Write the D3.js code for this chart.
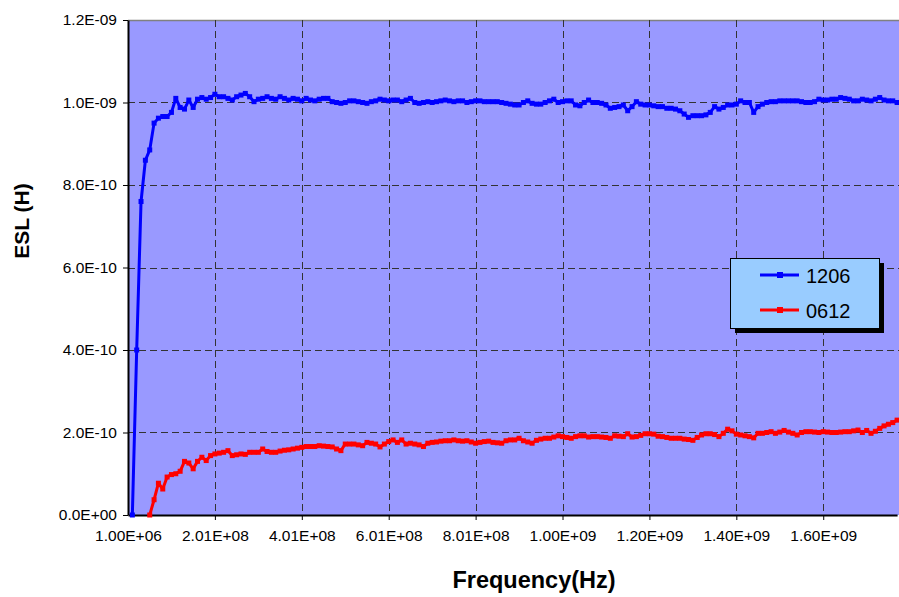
<!DOCTYPE html>
<html>
<head>
<meta charset="utf-8">
<script src="https://cdn.jsdelivr.net/npm/d3@7"></script>
<style>
  body { margin: 0; background: #fff; }
  svg { display: block; font-family: "Liberation Sans", Arial, sans-serif; }
</style>
</head>
<body>
<svg id="chart" width="899" height="597"></svg>
<script>
// sweep: first point 1.00E+06 Hz, one point every 1.0E+07 Hz
const freqStart = 1e6
const freqStep = 1e7

// ESL in units of 1e-10 H, one value per sweep point (null = no reading)
const esl1206 = [null, 0, 4.0, 7.6, 8.6, 8.85, 9.5, 9.62, 9.66, 9.66,
  9.76, 10.1, 9.88, 9.84, 10.06, 9.88, 10.08, 10.12, 10.08, 10.12,
  10.2, 10.14, 10.14, 10.1, 10.06, 10.14, 10.18, 10.22, 10.14, 10.02,
  10.08, 10.1, 10.14, 10.1, 10.08, 10.14, 10.1, 10.06, 10.1, 10.08,
  10.04, 10.1, 10.06, 10.04, 10.08, 10.1, 10.1, 10.02, 10.0, 9.98,
  10.0, 10.04, 10.04, 10.02, 10.0, 9.98, 10.02, 10.04, 10.08, 10.06,
  10.04, 10.06, 10.06, 10.02, 10.06, 10.1, 10.0, 9.98, 10.0, 10.02,
  10.0, 10.02, 10.04, 10.06, 10.04, 10.02, 10.04, 10.04, 10.0, 10.02,
  10.04, 10.04, 10.02, 10.02, 10.02, 10.02, 10.0, 9.98, 9.96, 9.94,
  9.94, 10.0, 10.04, 9.98, 9.96, 9.96, 10.0, 10.04, 10.08, 10.0,
  10.02, 10.04, 10.04, 9.94, 9.92, 10.0, 10.06, 10.0, 10.0, 9.98,
  9.94, 9.86, 9.88, 9.9, 9.94, 9.8, 9.9, 10.02, 9.96, 9.94,
  9.94, 9.92, 9.9, 9.9, 9.86, 9.86, 9.84, 9.8, 9.72, 9.64,
  9.68, 9.68, 9.68, 9.7, 9.76, 9.9, 9.84, 9.88, 9.94, 9.94,
  9.96, 10.04, 10.0, 10.0, 9.76, 9.9, 9.96, 10.0, 10.02, 10.02,
  10.04, 10.04, 10.04, 10.04, 10.04, 10.02, 10.0, 10.0, 10.02, 10.08,
  10.06, 10.06, 10.08, 10.08, 10.12, 10.1, 10.08, 10.04, 10.04, 10.08,
  10.06, 10.04, 10.08, 10.12, 10.06, 10.04, 10.04, 10.0]

const esl0612 = [null, null, null, null, null, 0, 0.37, 0.77, 0.63, 0.92,
  0.98, 1.0, 1.06, 1.3, 1.26, 1.12, 1.3, 1.4, 1.32, 1.44,
  1.48, 1.5, 1.52, 1.56, 1.44, 1.46, 1.48, 1.47, 1.52, 1.52,
  1.52, 1.6, 1.54, 1.52, 1.52, 1.55, 1.57, 1.58, 1.6, 1.62,
  1.64, 1.66, 1.66, 1.66, 1.68, 1.67, 1.66, 1.65, 1.6, 1.56,
  1.72, 1.72, 1.72, 1.7, 1.68, 1.76, 1.74, 1.72, 1.65, 1.72,
  1.78, 1.82, 1.76, 1.82, 1.72, 1.74, 1.72, 1.7, 1.66, 1.74,
  1.76, 1.77, 1.79, 1.8, 1.8, 1.82, 1.8, 1.79, 1.8, 1.77,
  1.74, 1.76, 1.78, 1.79, 1.76, 1.75, 1.74, 1.8, 1.82, 1.82,
  1.86, 1.8, 1.77, 1.74, 1.81, 1.84, 1.86, 1.86, 1.89, 1.92,
  1.9, 1.88, 1.86, 1.9, 1.92, 1.92, 1.89, 1.9, 1.9, 1.89,
  1.88, 1.86, 1.92, 1.91, 1.9, 1.97, 1.89, 1.9, 1.93, 1.97,
  1.97, 1.96, 1.91, 1.9, 1.88, 1.86, 1.86, 1.86, 1.84, 1.83,
  1.81, 1.88, 1.94, 1.97, 1.97, 1.95, 1.9, 1.98, 2.08, 2.04,
  1.96, 1.94, 1.92, 1.9, 1.87, 1.98, 1.98, 2.0, 2.02, 1.98,
  2.01, 2.05, 2.01, 1.98, 1.94, 2.0, 2.02, 2.02, 2.01, 2.0,
  2.02, 2.01, 2.0, 2.0, 2.01, 2.02, 2.02, 2.04, 2.06, 2.0,
  2.05, 1.98, 2.03, 2.1, 2.16, 2.2, 2.24, 2.3]

const seriesNames = ['1206', '0612']
const seriesColors = ['#0000FF', '#FF0000']
const yTicks = [0, 2e-10, 4e-10, 6e-10, 8e-10, 1e-9, 1.2e-9]
const xTicks = [1e6, 2.01e8, 4.01e8, 6.01e8, 8.01e8, 1.001e9, 1.201e9, 1.401e9, 1.601e9]

const svg = d3.select('#chart')
const plotL = 128, plotT = 20, plotR = 899, plotB = 515

let x = d3.scaleLinear().domain([freqStart, freqStart + 177 * freqStep]).range([plotL, 897.1])
let y = d3.scaleLinear().domain([0, 1.2e-9]).range([plotB, plotT])

let toSeries = vals => vals.map((v, i) => ({ f: freqStart + i * freqStep, v: v == null ? null : v * 1e-10 }))
let series = [esl1206, esl0612].map(toSeries)

// plot area
svg.append('rect')
  .attr('x', plotL).attr('y', plotT)
  .attr('width', plotR - plotL).attr('height', plotB - plotT)
  .attr('fill', '#9999FF')
svg.append('line')
  .attr('x1', plotL).attr('x2', plotR).attr('y1', plotT + 0.5).attr('y2', plotT + 0.5)
  .attr('stroke', '#808080').attr('stroke-width', 1.5)

// grid
let grid = svg.append('g').attr('stroke', '#333').attr('stroke-width', 1).attr('stroke-dasharray', '7,4')
grid.selectAll('.hg').data(yTicks.slice(1, -1)).enter().append('line')
  .attr('x1', plotL).attr('x2', plotR)
  .attr('y1', d => Math.round(y(d)) + 0.5).attr('y2', d => Math.round(y(d)) + 0.5)
grid.selectAll('.vg').data(xTicks.slice(1)).enter().append('line')
  .attr('y1', plotT).attr('y2', plotB)
  .attr('x1', d => Math.round(x(d)) + 0.5).attr('x2', d => Math.round(x(d)) + 0.5)

// axes
let fmtExp = digits => d => {
  let [m, e] = d.toExponential(digits).split('e')
  let n = parseInt(e)
  return m + 'E' + (n < 0 ? '-' : '+') + String(Math.abs(n)).padStart(2, '0')
}

let yAxis = svg.append('g')
  .attr('transform', `translate(${plotL},0)`)
  .call(d3.axisLeft(y).tickValues(yTicks).tickFormat(fmtExp(1)).tickSize(5).tickPadding(6).tickSizeOuter(0))
let xAxis = svg.append('g')
  .attr('transform', `translate(0,${plotB})`)
  .call(d3.axisBottom(x).tickValues(xTicks).tickFormat(fmtExp(2)).tickSize(5).tickPadding(10).tickSizeOuter(0))

;[yAxis, xAxis].forEach(a => {
  a.select('.domain').attr('stroke', '#000').attr('stroke-width', 2)
  a.selectAll('.tick line').attr('stroke', '#000')
  a.selectAll('.tick text').attr('font-size', 15.5).attr('fill', '#000')
    .style('font-family', '"Liberation Sans", Arial, sans-serif')
})
xAxis.selectAll('.tick').filter(d => d === xTicks[0]).select('line').remove()

// series
let line = d3.line()
  .defined(d => d.v != null)
  .x(d => x(d.f))
  .y(d => y(d.v))

series.forEach((s, k) => {
  let g = svg.append('g')
  g.append('path')
    .datum(s)
    .attr('d', line)
    .attr('fill', 'none')
    .attr('stroke', seriesColors[k])
    .attr('stroke-width', 3)
    .attr('stroke-linejoin', 'round')
  g.selectAll('rect')
    .data(s.filter(d => d.v != null))
    .enter().append('rect')
    .attr('x', d => x(d.f) - 2.5)
    .attr('y', d => y(d.v) - 2.5)
    .attr('width', 5)
    .attr('height', 5)
    .attr('fill', seriesColors[k])
})

// axis titles
svg.append('text')
  .attr('transform', 'translate(29,221) rotate(-90)')
  .attr('text-anchor', 'middle')
  .attr('font-size', 21).attr('font-weight', 'bold')
  .text('ESL (H)')
svg.append('text')
  .attr('x', 534).attr('y', 588)
  .attr('text-anchor', 'middle')
  .attr('font-size', 23.5).attr('font-weight', 'bold')
  .text('Frequency(Hz)')

// legend
let lg = svg.append('g').attr('transform', 'translate(730,258)')
lg.append('rect').attr('x', 5).attr('y', 5).attr('width', 149).attr('height', 70).attr('fill', '#000')
lg.append('rect').attr('x', 0.5).attr('y', 0.5).attr('width', 149).attr('height', 70)
  .attr('fill', '#99CCFF').attr('stroke', '#000').attr('stroke-width', 1)
seriesNames.forEach((name, k) => {
  let yy = 17 + k * 35
  lg.append('line').attr('x1', 30).attr('x2', 69).attr('y1', yy).attr('y2', yy)
    .attr('stroke', seriesColors[k]).attr('stroke-width', 3)
  lg.append('rect').attr('x', 47).attr('y', yy - 3).attr('width', 6).attr('height', 6)
    .attr('fill', seriesColors[k])
  lg.append('text').attr('x', 76).attr('y', yy + 7.5)
    .attr('font-size', 20).text(name)
})
</script>
</body>
</html>
